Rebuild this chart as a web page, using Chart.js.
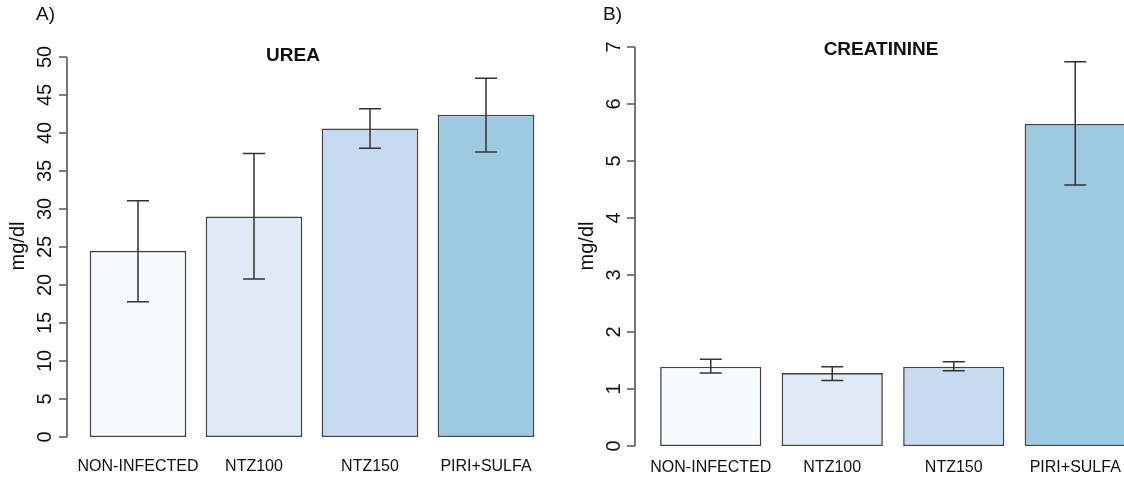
<!DOCTYPE html>
<html>
<head>
<meta charset="utf-8">
<script src="https://cdn.jsdelivr.net/npm/chart.js@4.4.1/dist/chart.umd.min.js"></script>
<style>
  html, body { margin: 0; padding: 0; background: #fff; overflow: hidden; }
  #wrap { position: relative; width: 1124px; height: 481px; overflow: hidden; }
  #c1 { position: absolute; left: 0; top: 0; }
  #c2 { position: absolute; left: 560px; top: 0; }
</style>
</head>
<body>
<div id="wrap">
  <canvas id="c1" width="560" height="481"></canvas>
  <canvas id="c2" width="600" height="481"></canvas>
</div>
<script>
// dados
const grupos = ["NON-INFECTED", "NTZ100", "NTZ150", "PIRI+SULFA"];
const cores = ["#f7fbff", "#deebf7", "#c6dbef", "#9ecae1"];

const ureaMedia = [24.5, 29.0, 40.6, 42.4];
const ureaInf = [17.8, 20.8, 38.0, 37.5];
const ureaSup = [31.1, 37.3, 43.2, 47.2];
const ureaTicks = [0, 5, 10, 15, 20, 25, 30, 35, 40, 45, 50];

const creatMedia = [1.39, 1.28, 1.39, 5.65];
const creatInf = [1.28, 1.15, 1.32, 4.58];
const creatSup = [1.52, 1.39, 1.48, 6.74];
const creatTicks = [0, 1, 2, 3, 4, 5, 6, 7];

const FONTE = "'Liberation Sans', Arial, sans-serif";

// eixo estilo R + barras de erro + textos
const eixoR = {
  id: "eixoR",
  afterDraw(chart, args, o) {
    const ctx = chart.ctx;
    const y = chart.scales.y;
    const x = chart.scales.x;
    const meta = chart.getDatasetMeta(0);
    ctx.save();

    // barras de erro
    ctx.strokeStyle = "#333";
    ctx.lineWidth = 1.5;
    meta.data.forEach((bar, i) => {
      const cx = bar.x;
      const yTop = y.getPixelForValue(o.sup[i]);
      const yBot = y.getPixelForValue(o.inf[i]);
      ctx.beginPath();
      ctx.moveTo(cx, yTop); ctx.lineTo(cx, yBot);
      ctx.moveTo(cx - 11, yTop); ctx.lineTo(cx + 11, yTop);
      ctx.moveTo(cx - 11, yBot); ctx.lineTo(cx + 11, yBot);
      ctx.stroke();
    });

    // eixo y
    const t0 = y.getPixelForValue(o.ticks[0]);
    const t1 = y.getPixelForValue(o.ticks[o.ticks.length - 1]);
    ctx.strokeStyle = "#555";
    ctx.lineWidth = 1.6;
    ctx.beginPath();
    ctx.moveTo(o.axisX, t0); ctx.lineTo(o.axisX, t1);
    o.ticks.forEach(v => {
      const py = y.getPixelForValue(v);
      ctx.moveTo(o.axisX, py); ctx.lineTo(o.axisX - 8, py);
    });
    ctx.stroke();

    ctx.fillStyle = "#111";
    ctx.textAlign = "center";
    ctx.textBaseline = "middle";
    ctx.font = "20px " + FONTE;
    o.ticks.forEach(v => {
      const py = y.getPixelForValue(v);
      ctx.save();
      ctx.translate(o.tickX, py);
      ctx.rotate(-Math.PI / 2);
      ctx.fillText(String(v), 0, 1);
      ctx.restore();
    });

    // título do eixo y
    ctx.font = "20px " + FONTE;
    ctx.save();
    ctx.translate(o.yTitleX, 246);
    ctx.rotate(-Math.PI / 2);
    ctx.fillText("mg/dl", 0, 0);
    ctx.restore();

    // rótulos das categorias
    ctx.font = "16px " + FONTE;
    grupos.forEach((g, i) => {
      ctx.fillText(g, x.getPixelForValue(i), o.labelY);
    });

    // título
    ctx.font = "bold 19px " + FONTE;
    ctx.fillText(o.titulo, o.titleX, o.titleY);

    // letra do painel
    ctx.font = "19px " + FONTE;
    ctx.textAlign = "left";
    ctx.fillText(o.painel, o.painelX, 15);

    ctx.restore();
  }
};

function criarGrafico(id, dados, maxY, padding, opts) {
  new Chart(document.getElementById(id), {
    type: "bar",
    data: {
      labels: grupos,
      datasets: [{
        data: dados,
        backgroundColor: cores,
        borderColor: "#444",
        borderWidth: 1.6,
        borderSkipped: false,
        categoryPercentage: 1,
        barPercentage: 0.833
      }]
    },
    options: {
      responsive: false,
      animation: false,
      layout: { padding: padding },
      plugins: {
        legend: { display: false },
        tooltip: { enabled: false },
        eixoR: opts
      },
      scales: {
        x: { display: false },
        y: { display: false, min: 0, max: maxY }
      }
    },
    plugins: [eixoR]
  });
}

document.addEventListener("DOMContentLoaded", () => {
  criarGrafico("c1", ureaMedia, 50,
    { left: 80, right: 16, top: 57, bottom: 44 },
    { inf: ureaInf, sup: ureaSup, ticks: ureaTicks, axisX: 67, tickX: 44,
      yTitleX: 18, labelY: 467, titulo: "UREA", titleX: 293, titleY: 56,
      painel: "A)", painelX: 36 });

  criarGrafico("c2", creatMedia, 7,
    { left: 90, right: 24, top: 47, bottom: 35 },
    { inf: creatInf, sup: creatSup, ticks: creatTicks, axisX: 75, tickX: 53,
      yTitleX: 27, labelY: 468, titulo: "CREATININE", titleX: 321, titleY: 50,
      painel: "B)", painelX: 43 });
});
</script>
</body>
</html>
